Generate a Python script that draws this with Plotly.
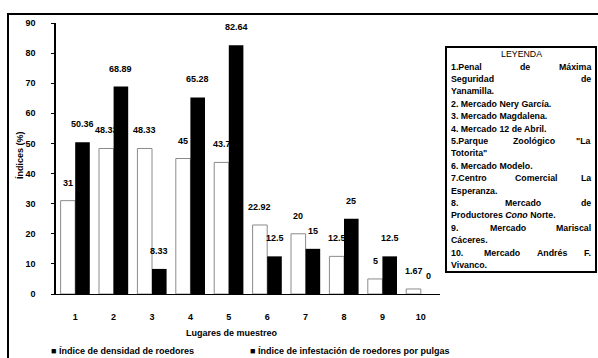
import plotly.graph_objects as go

# Sampling sites and the two indices (%)
lugares = [1, 2, 3, 4, 5, 6, 7, 8, 9, 10]
densidad = [31, 48.33, 48.33, 45, 43.7, 22.92, 20, 12.5, 5, 1.67]
infestacion = [50.36, 68.89, 8.33, 65.28, 82.64, 12.5, 15, 25, 12.5, 0]
y_ticks = [0, 10, 20, 30, 40, 50, 60, 70, 80, 90]

serie_densidad = "Índice de densidad de roedores"
serie_infestacion = "Índice de infestación de roedores por pulgas"

leyenda_titulo = "LEYENDA"
# (text, justified?)
leyenda_lineas = [
    ("1.Penal de Máxima", True),
    ("Seguridad de", True),
    ("Yanamilla.", False),
    ("2. Mercado Nery García.", False),
    ("3. Mercado Magdalena.", False),
    ("4. Mercado 12 de Abril.", False),
    ("5.Parque Zoológico \"La", True),
    ("Totorita\"", False),
    ("6. Mercado Modelo.", False),
    ("7.Centro Comercial La", True),
    ("Esperanza.", False),
    ("8. Mercado de", True),
    ("Productores <i>Cono</i> Norte.", False),
    ("9. Mercado Mariscal", True),
    ("Cáceres.", False),
    ("10. Mercado Andrés F.", True),
    ("Vivanco.", False),
]

W, H = 598, 358
L, R, T, B = 56, 158, 23, 64
PW, PH = W - L - R, H - T - B
FONT = "Liberation Sans, Arial, sans-serif"


def px(x):
    return (x - L) / PW


def py(y):
    return (H - B - y) / PH


def fmt(v):
    return f"{v:g}"


def bold(s):
    return "<b>" + s + "</b>"


def note(x, y, text, size=9, xanchor="center", **kw):
    return dict(x=px(x), y=py(y), xref="paper", yref="paper", text=text,
                showarrow=False, xanchor=xanchor, yanchor="middle",
                font=dict(size=size, family=FONT, color="black"), **kw)


BARGAP = 0.24
half = (1 - BARGAP) / 4  # centre offset of each bar within its group

fig = go.Figure()
fig.add_trace(go.Bar(
    x=lugares, y=densidad, name=serie_densidad,
    marker=dict(color="white", line=dict(color="#8a8a8a", width=1)),
))
fig.add_trace(go.Bar(
    x=lugares, y=infestacion, name=serie_infestacion,
    marker=dict(color="black", line=dict(color="black", width=0)),
))

annotations = []
for off, serie in ((-half, densidad), (half, infestacion)):
    for xi, v in zip(lugares, serie):
        annotations.append(dict(x=xi + off, y=v, xref="x", yref="y", text=bold(fmt(v)),
                                showarrow=False, xanchor="center", yanchor="middle",
                                yshift=18, font=dict(size=9, color="black", family=FONT)))

# axis titles
annotations.append(note(232, 333, bold("Lugares de muestreo")))
annotations.append(note(20, 155, bold("Índices (%)"), textangle=-90))

# series key under the chart
annotations.append(note(49, 351, bold("■ " + serie_densidad), xanchor="left"))
annotations.append(note(248, 351, bold("■ " + serie_infestacion), xanchor="left"))

# legend box with place names
BOX_X0, BOX_X1, BOX_Y0, BOX_Y1 = 446, 596, 47, 272
TX0, TX1 = 449, 593
LFS = 8.8
annotations.append(note((BOX_X0 + BOX_X1) / 2, 54, leyenda_titulo, size=LFS))


def word_w(w):
    plain = w.replace("<i>", "").replace("</i>", "")
    return len(plain) * LFS * 0.58


y0, step = 66.5, 12.4
for i, (line, just) in enumerate(leyenda_lineas):
    yy = y0 + i * step
    words = line.split(" ")
    if just and len(words) > 1:
        widths = [word_w(w) for w in words]
        gap = (TX1 - TX0 - sum(widths)) / (len(words) - 1)
        x = TX0
        for j, (w, ww) in enumerate(zip(words, widths)):
            if j == len(words) - 1:
                annotations.append(note(TX1, yy, bold(w), size=LFS, xanchor="right"))
            else:
                annotations.append(note(x, yy, bold(w), size=LFS, xanchor="left"))
            x += ww + gap
    else:
        annotations.append(note(TX0, yy, bold(line), size=LFS, xanchor="left"))

shapes = [
    # legend frame
    dict(type="rect", xref="paper", yref="paper",
         x0=px(BOX_X0), x1=px(BOX_X1), y0=py(BOX_Y1), y1=py(BOX_Y0),
         line=dict(color="black", width=2)),
    # outer frame of the figure panel
    dict(type="rect", xref="paper", yref="paper",
         x0=px(8), x1=px(603), y0=py(370), y1=py(14),
         line=dict(color="black", width=2)),
]

fig.update_layout(
    width=W, height=H,
    margin=dict(l=L, r=R, t=T, b=B),
    paper_bgcolor="white", plot_bgcolor="white",
    barmode="group", bargap=BARGAP, bargroupgap=0,
    showlegend=False,
    font=dict(family=FONT, color="black", size=9),
    annotations=annotations, shapes=shapes,
    xaxis=dict(range=[0.5, 10.5], tickvals=lugares,
               ticktext=[bold(str(v)) for v in lugares],
               showline=True, linecolor="black", linewidth=1, ticks="",
               showgrid=False, zeroline=False, ticklabelstandoff=14,
               tickfont=dict(size=9, family=FONT)),
    yaxis=dict(range=[0, 90], tickvals=y_ticks, ticktext=[bold(str(v)) for v in y_ticks],
               showline=True, linecolor="black",
               linewidth=1.5, ticks="outside", ticklen=3, tickcolor="black",
               showgrid=False, zeroline=False, ticklabelstandoff=14,
               tickfont=dict(size=9, family=FONT)),
)

fig.write_html("out.html")
